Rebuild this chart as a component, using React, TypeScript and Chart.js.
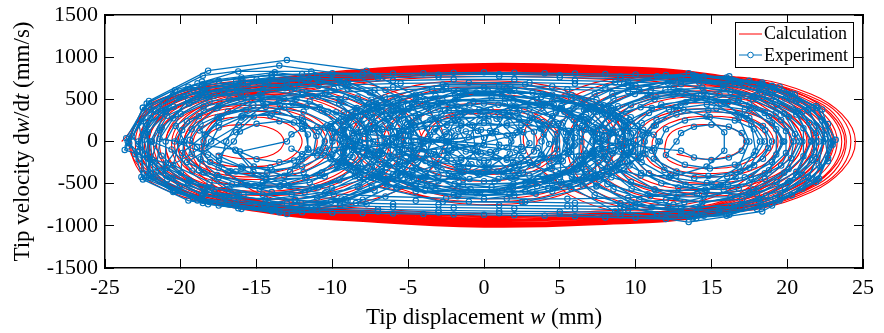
import { useEffect, useRef } from 'react';
import { Chart, registerables } from 'chart.js';

Chart.register(...registerables);

type P = [number, number];

// Axis ranges / ticks
const xRange = { min: -25, max: 25, step: 5 };
const yRange = { min: -1500, max: 1500, step: 500 };
const seriesNames = ['Calculation', 'Experiment'];

// ---------- Calculation (red) : w (mm), dw/dt (mm/s) ----------
const calcLeftWell: P[] = [
  [-23.9, 0], [-21.1, 520], [-14.0, 720], [-6.9, 530], [-4.1, 0], [-6.9, -540], [-14.0, -760], [-21.1, -520],
  [-23.4, 0], [-20.5, 530], [-13.0, 740], [-5.5, 560], [-2.6, 0], [-5.5, -570], [-13.0, -790], [-20.5, -540],
  [-23.3, 0], [-20.8, 500], [-14.3, 690], [-7.8, 500], [-5.3, 0], [-7.8, -520], [-14.3, -730], [-20.8, -500],
  [-22.8, 0], [-20.5, 470], [-14.5, 650], [-8.5, 470], [-6.2, 0], [-8.5, -480], [-14.5, -690], [-20.5, -470],
  [-22.2, 0], [-20.1, 440], [-14.6, 610], [-9.1, 440], [-7.0, 0], [-9.1, -450], [-14.6, -640], [-20.1, -440],
  [-22.1, 0], [-20.1, 420], [-14.9, 580], [-9.7, 420], [-7.7, 0], [-9.7, -430], [-14.9, -610], [-20.1, -420],
  [-21.6, 0], [-19.7, 400], [-14.8, 560], [-9.9, 400], [-8.0, 0], [-9.9, -410], [-14.8, -590], [-19.7, -400],
  [-21.0, 0], [-19.3, 360], [-15.0, 500], [-10.7, 360], [-9.0, 0], [-10.7, -370], [-15.0, -520], [-19.3, -360],
  [-20.4, 0], [-18.9, 310], [-15.2, 430], [-11.5, 310], [-10.0, 0], [-11.5, -320], [-15.2, -450], [-18.9, -310],
  [-20.2, 0], [-18.8, 290], [-15.3, 400], [-11.8, 290], [-10.4, 0], [-11.8, -295], [-15.3, -420], [-18.8, -290],
  [-19.8, 0], [-18.6, 260], [-15.4, 360], [-12.2, 260], [-11.0, 0], [-12.2, -270], [-15.4, -380], [-18.6, -260],
  [-19.2, 0], [-18.2, 210], [-15.6, 290], [-13.0, 210], [-12.0, 0], [-13.0, -215], [-15.6, -300], [-18.2, -210],
  [-18.4, 0], [-17.7, 145], [-15.8, 200], [-13.9, 145], [-13.2, 0], [-13.9, -150], [-15.8, -205], [-17.7, -145],
];

const calcRightWell: P[] = [
  [3.5, 0], [6.4, 580], [14.0, 780], [21.6, 560], [24.5, 0], [21.6, -600], [14.0, -850], [6.4, -620],
  [2.6, 0], [5.6, 590], [13.2, 790], [20.8, 570], [23.8, 0], [20.8, -610], [13.2, -870], [5.6, -630],
  [4.6, 0], [7.3, 550], [14.2, 750], [21.1, 540], [23.8, 0], [21.1, -570], [14.2, -810], [7.3, -590],
  [5.5, 0], [8.0, 520], [14.3, 710], [20.6, 510], [23.1, 0], [20.6, -540], [14.3, -770], [8.0, -550],
  [6.4, 0], [8.6, 480], [14.4, 660], [20.2, 470], [22.4, 0], [20.2, -500], [14.4, -710], [8.6, -510],
  [7.3, 0], [9.3, 430], [14.5, 600], [19.7, 430], [21.7, 0], [19.7, -450], [14.5, -650], [9.3, -460],
  [7.7, 0], [9.6, 410], [14.5, 570], [19.4, 410], [21.3, 0], [19.4, -425], [14.5, -615], [9.6, -430],
  [8.2, 0], [10.0, 380], [14.6, 530], [19.2, 380], [21.0, 0], [19.2, -400], [14.6, -570], [10.0, -400],
  [9.1, 0], [10.7, 330], [14.7, 460], [18.7, 330], [20.3, 0], [18.7, -345], [14.7, -495], [10.7, -345],
  [10.0, 0], [11.3, 280], [14.8, 390], [18.3, 280], [19.6, 0], [18.3, -290], [14.8, -420], [11.3, -290],
  [10.5, 0], [11.7, 250], [14.8, 350], [17.9, 250], [19.1, 0], [17.9, -260], [14.8, -380], [11.7, -260],
  [11.1, 0], [12.2, 215], [14.9, 300], [17.6, 215], [18.7, 0], [17.6, -225], [14.9, -320], [12.2, -225],
  [12.0, 0], [12.7, 145], [14.6, 200], [16.5, 145], [17.2, 0], [16.5, -150], [14.6, -210], [12.7, -150],
];

const calcCrossing: P[] = [
  [-23.6, 0], [-21.8, 470], [-15, 720], [-7, 870], [0, 925], [7, 900], [15, 800], [22.2, 480], [24.2, 0], [22.2, -520], [15, -880], [7, -990], [0, -1015], [-7, -960], [-15, -830], [-21.8, -500],
  [-23.3, 0], [-21.5, 460], [-15, 705], [-7, 860], [0, 915], [7, 890], [15, 790], [22.0, 470], [23.9, 0], [22.0, -510], [15, -870], [7, -980], [0, -1005], [-7, -950], [-15, -820], [-21.5, -490],
  [-23.0, 0], [-21.3, 450], [-15, 690], [-7, 850], [0, 905], [7, 880], [15, 780], [21.7, 460], [23.6, 0], [21.7, -500], [15, -860], [7, -970], [0, -995], [-7, -940], [-15, -810], [-21.3, -480],
  [-22.7, 0], [-21.0, 440], [-15, 675], [-7, 840], [0, 895], [7, 870], [15, 770], [21.4, 450], [23.3, 0], [21.4, -490], [15, -850], [7, -960], [0, -985], [-7, -930], [-15, -800], [-21.0, -470],
  [-22.4, 0], [-20.7, 430], [-15, 660], [-7, 830], [0, 885], [7, 860], [15, 760], [21.1, 440], [23.0, 0], [21.1, -480], [15, -840], [7, -950], [0, -975], [-7, -920], [-15, -790], [-20.7, -460],
  [-22.1, 0], [-20.4, 420], [-15, 650], [-7, 820], [0, 875], [7, 850], [15, 750], [20.8, 430], [22.7, 0], [20.8, -470], [15, -830], [7, -940], [0, -965], [-7, -910], [-15, -780], [-20.4, -450],
  [-21.8, 0], [-20.1, 410], [-15, 640], [-7, 810], [0, 865], [7, 840], [15, 740], [20.5, 420], [22.4, 0], [20.5, -460], [15, -820], [7, -930], [0, -955], [-7, -900], [-15, -770], [-20.1, -440],
  [-21.4, 0], [-19.8, 400], [-15, 625], [-7, 800], [0, 855], [7, 830], [15, 728], [20.2, 410], [22.1, 0], [20.2, -450], [15, -808], [7, -918], [0, -942], [-7, -888], [-15, -758], [-19.8, -430],
  [-21.0, 0], [-19.4, 390], [-15, 610], [-7, 790], [0, 845], [7, 820], [15, 715], [19.9, 400], [21.8, 0], [19.9, -440], [15, -795], [7, -905], [0, -930], [-7, -875], [-15, -745], [-19.4, -420],
  [-20.6, 0], [-19.0, 380], [-15, 595], [-7, 778], [0, 832], [7, 808], [15, 702], [19.5, 390], [21.4, 0], [19.5, -430], [15, -782], [7, -892], [0, -918], [-7, -862], [-15, -732], [-19.0, -410],
  [-20.2, 0], [-18.7, 370], [-15, 580], [-7, 765], [0, 820], [7, 795], [15, 690], [19.2, 380], [21.0, 0], [19.2, -420], [15, -770], [7, -880], [0, -905], [-7, -850], [-15, -720], [-18.7, -400],
  [-19.8, 0], [-18.3, 360], [-15, 565], [-7, 752], [0, 808], [7, 782], [15, 678], [18.8, 370], [20.6, 0], [18.8, -410], [15, -758], [7, -868], [0, -892], [-7, -838], [-15, -708], [-18.3, -390],
  [-19.4, 0], [-18.0, 350], [-15, 550], [-7, 740], [0, 795], [7, 770], [15, 665], [18.5, 360], [20.2, 0], [18.5, -400], [15, -745], [7, -855], [0, -880], [-7, -825], [-15, -695], [-18.0, -380],
  [-18.6, 0], [-17.2, 330], [-14, 540], [-7, 715], [0, 770], [7, 745], [14, 640], [17.8, 340], [19.4, 0], [17.8, -380], [14, -720], [7, -830], [0, -855], [-7, -800], [-14, -670], [-17.2, -360],
];

const calcCenter: P[] = [
  [-4.1, 0], [-3.0, 240], [-0.3, 330], [2.4, 240], [3.5, 0], [2.4, -240], [-0.3, -340], [-3.0, -240],
  [-4.2, 0], [-2.94, 274], [0.3, 380], [3.54, 274], [4.8, 0], [3.54, -280], [0.3, -390], [-2.94, -280],
  [-5.4, 0], [-3.9, 320], [-0.2, 450], [3.5, 320], [5.0, 0], [3.5, -330], [-0.2, -470], [-3.9, -330],
  [-6.6, 0], [-4.75, 400], [0, 560], [4.75, 400], [6.6, 0], [4.75, -410], [0, -580], [-4.75, -410],
  [-7.8, 0], [-5.55, 470], [0.2, 650], [5.95, 470], [8.2, 0], [5.95, -480], [0.2, -680], [-5.55, -480],
  [-8.8, 0], [-6.34, 497], [0, 690], [6.34, 497], [8.8, 0], [6.34, -505], [0, -715], [-6.34, -505],
  [-9.7, 0], [-7.05, 520], [-0.2, 720], [6.65, 520], [9.3, 0], [6.65, -530], [-0.2, -750], [-7.05, -530],
];

// ---------- Experiment (blue, sampled) ----------
const expLeftWell: P[] = [
  [-23.5, -60], [-22.1, 480], [-18.2, 840], [-13, 965], [-7.75, 840], [-3.9, 490], [-2.5, 0], [-3.9, -430], [-7.75, -745], [-13, -860], [-18.2, -745], [-22.1, -430],
  [-22.78, 223], [-20.38, 608], [-16.21, 831], [-11.39, 831], [-7.22, 608], [-4.82, 223], [-4.82, -212], [-7.22, -580], [-11.39, -792], [-16.21, -792], [-20.38, -580], [-22.78, -212],
  [-23.6, 40], [-22.25, 450], [-18.55, 780], [-13.5, 900], [-8.45, 780], [-4.75, 450], [-3.4, 0], [-4.75, -420], [-8.45, -730], [-13.5, -840], [-18.55, -730], [-22.25, -420],
  [-21.37, 132], [-19.51, 489], [-15.91, 714], [-11.52, 749], [-7.53, 582], [-5.01, 260], [-4.63, -132], [-6.49, -489], [-10.09, -714], [-14.48, -749], [-18.47, -582], [-20.99, -260],
  [-23.7, -100], [-22.5, 400], [-18.9, 690], [-14, 790], [-9.1, 690], [-5.5, 390], [-4.0, -20], [-5.5, -400], [-9.1, -690], [-14, -810], [-18.9, -700], [-22.6, -420],
  [-22.46, 239], [-19.79, 536], [-15.57, 690], [-10.92, 658], [-7.11, 450], [-5.13, 122], [-5.54, -239], [-8.21, -536], [-12.43, -690], [-17.08, -658], [-20.89, -450], [-22.87, -122],
  [-23.4, -20], [-22.1, 410], [-18.6, 710], [-13.8, 820], [-9.0, 710], [-5.5, 410], [-4.2, 0], [-5.5, -405], [-9.0, -700], [-13.8, -810], [-18.6, -700], [-22.1, -405],
  [-22.22, 192], [-20.07, 523], [-16.35, 715], [-12.05, 715], [-8.33, 523], [-6.18, 192], [-6.18, -197], [-8.33, -537], [-12.05, -734], [-16.35, -734], [-20.07, -537], [-22.22, -197],
  [-23.2, 60], [-22.0, 380], [-18.6, 660], [-14, 760], [-9.4, 660], [-6.0, 380], [-4.8, 0], [-6.0, -390], [-9.4, -675], [-14, -780], [-18.6, -675], [-22.0, -390],
  [-22.18, 111], [-20.47, 412], [-17.17, 602], [-13.14, 630], [-9.48, 490], [-7.17, 219], [-6.82, -111], [-8.53, -412], [-11.83, -602], [-15.86, -630], [-19.52, -490], [-21.83, -219],
  [-22.8, -30], [-21.65, 360], [-18.5, 625], [-14.2, 720], [-9.9, 625], [-6.75, 360], [-5.6, 0], [-6.75, -365], [-9.9, -630], [-14.2, -730], [-18.5, -630], [-21.65, -365],
  [-21.26, 166], [-19.45, 452], [-16.31, 618], [-12.69, 618], [-9.55, 452], [-7.74, 166], [-7.74, -168], [-9.55, -460], [-12.69, -628], [-16.31, -628], [-19.45, -460], [-21.26, -168],
  [-22.42, 97], [-21.21, 360], [-18.88, 526], [-16.04, 552], [-13.46, 429], [-11.83, 192], [-11.58, -97], [-12.79, -360], [-15.12, -526], [-17.96, -552], [-20.54, -429], [-22.17, -192],
  [-22.4, 20], [-21.3, 335], [-18.4, 580], [-14.4, 670], [-10.4, 580], [-7.5, 335], [-6.4, 0], [-7.5, -345], [-10.4, -600], [-14.4, -690], [-18.4, -600], [-21.3, -345],
  [-19.28, 145], [-17.6, 396], [-14.68, 541], [-11.32, 541], [-8.4, 396], [-6.72, 145], [-6.72, -145], [-8.4, -396], [-11.32, -541], [-14.68, -541], [-17.6, -396], [-19.28, -145],
  [-20.33, 185], [-18.49, 414], [-15.58, 532], [-12.38, 508], [-9.75, 347], [-8.39, 94], [-8.67, -185], [-10.51, -414], [-13.42, -532], [-16.62, -508], [-19.25, -347], [-20.61, -94],
  [-21.9, 0], [-20.9, 305], [-18.25, 530], [-14.6, 610], [-10.95, 530], [-8.3, 305], [-7.3, 0], [-8.3, -315], [-10.95, -545], [-14.6, -630], [-18.25, -545], [-20.9, -315],
  [-16.17, 192], [-14.54, 429], [-11.96, 552], [-9.12, 526], [-6.79, 360], [-5.58, 97], [-5.83, -192], [-7.46, -429], [-10.04, -552], [-12.88, -526], [-15.21, -360], [-16.42, -97],
  [-21.4, 30], [-20.5, 275], [-18.1, 475], [-14.8, 550], [-11.5, 475], [-9.1, 275], [-8.2, 0], [-9.1, -280], [-11.5, -485], [-14.8, -560], [-18.1, -485], [-20.5, -280],
  [-19.91, 135], [-18.49, 368], [-16.02, 502], [-13.18, 502], [-10.71, 368], [-9.29, 135], [-9.29, -135], [-10.71, -368], [-13.18, -502], [-16.02, -502], [-18.49, -368], [-19.91, -135],
  [-18.43, 80], [-17.33, 296], [-15.21, 432], [-12.63, 453], [-10.28, 352], [-8.8, 157], [-8.57, -80], [-9.67, -296], [-11.79, -432], [-14.37, -453], [-16.72, -352], [-18.2, -157],
  [-20.4, 0], [-19.6, 240], [-17.5, 415], [-14.6, 480], [-11.7, 415], [-9.6, 240], [-8.8, 0], [-9.6, -245], [-11.7, -425], [-14.6, -490], [-17.5, -425], [-19.6, -245],
  [-16.35, 109], [-15.18, 297], [-13.17, 406], [-10.83, 406], [-8.82, 297], [-7.65, 109], [-7.65, -109], [-8.82, -297], [-10.83, -406], [-13.17, -406], [-15.18, -297], [-16.35, -109],
  [-18.76, 130], [-17.57, 291], [-15.7, 374], [-13.63, 357], [-11.94, 244], [-11.06, 66], [-11.24, -130], [-12.43, -291], [-14.3, -374], [-16.37, -357], [-18.06, -244], [-18.94, -66],
  [-19.4, 20], [-18.7, 205], [-16.9, 355], [-14.4, 410], [-11.9, 355], [-10.1, 205], [-9.4, 0], [-10.1, -210], [-11.9, -365], [-14.4, -420], [-16.9, -365], [-18.7, -210],
  [-18.38, 83], [-17.47, 226], [-15.91, 309], [-14.09, 309], [-12.53, 226], [-11.62, 83], [-11.62, -83], [-12.53, -226], [-14.09, -309], [-15.91, -309], [-17.47, -226], [-18.38, -83],
  [-18.0, 0], [-17.5, 165], [-16.0, 285], [-14.0, 330], [-12.0, 285], [-10.5, 165], [-10.0, 0], [-10.5, -170], [-12.0, -295], [-14.0, -340], [-16.0, -295], [-17.5, -170],
  [-16.5, 0], [-16.1, 120], [-15.0, 210], [-13.5, 240], [-12.0, 210], [-10.9, 120], [-10.5, 0], [-10.9, -120], [-12.0, -210], [-13.5, -245], [-15.0, -210], [-16.1, -120],
  [-13, 0], [-12.7, 85], [-12, 150], [-11, 170], [-10, 150], [-9.3, 85], [-9, 0], [-9.3, -85], [-10, -150], [-11, -170], [-12, -150], [-12.7, -85],
];

const expRightWell: P[] = [
  [3.8, 0], [5.1, 420], [8.65, 700], [13.5, 810], [18.35, 700], [21.9, 420], [23.2, 20], [21.9, -480], [18.35, -830], [13.5, -955], [8.65, -830], [5.1, -480],
  [4.91, 207], [7.3, 566], [11.42, 773], [16.18, 773], [20.3, 566], [22.69, 207], [22.69, -233], [20.3, -636], [16.18, -869], [11.42, -869], [7.3, -636], [4.91, -233],
  [4.7, 0], [5.9, 400], [9.25, 685], [13.8, 790], [18.35, 685], [21.7, 400], [22.9, -20], [21.7, -450], [18.35, -780], [13.8, -900], [9.25, -780], [5.9, -450],
  [5.92, 253], [8.47, 567], [12.5, 729], [16.94, 696], [20.59, 476], [22.47, 129], [22.08, -284], [19.53, -636], [15.5, -818], [11.06, -780], [7.41, -534], [5.53, -144],
  [5.4, 20], [6.7, 390], [10.0, 660], [14.5, 770], [19.0, 660], [22.3, 380], [23.0, -40], [22.1, -440], [19.0, -760], [14.5, -880], [10.0, -760], [6.7, -440],
  [5.5, 0], [6.6, 375], [9.75, 650], [14.0, 750], [18.25, 650], [21.4, 375], [22.5, 30], [21.4, -425], [18.25, -735], [14.0, -850], [9.75, -735], [6.6, -425],
  [6.47, 186], [8.54, 509], [12.13, 696], [16.27, 696], [19.86, 509], [21.93, 186], [21.93, -207], [19.86, -566], [16.27, -773], [12.13, -773], [8.54, -566], [6.47, -207],
  [7.21, 113], [8.83, 418], [11.97, 611], [15.79, 640], [19.26, 498], [21.46, 222], [21.79, -127], [20.17, -469], [17.03, -686], [13.21, -719], [9.74, -559], [7.54, -250],
  [6.3, 0], [7.4, 350], [10.25, 605], [14.2, 700], [18.15, 605], [21.0, 350], [22.1, 0], [21.0, -395], [18.15, -685], [14.2, -790], [10.25, -685], [7.4, -395],
  [7.2, 0], [8.2, 320], [10.8, 555], [14.4, 640], [18.0, 555], [20.6, 320], [21.6, 10], [20.6, -360], [18.0, -625], [14.4, -720], [10.8, -625], [8.2, -360],
  [11.33, 192], [12.96, 429], [15.54, 552], [18.38, 526], [20.71, 360], [21.92, 97], [21.67, -219], [20.04, -490], [17.46, -630], [14.62, -602], [12.29, -412], [11.08, -111],
  [7.93, 158], [9.69, 431], [12.74, 589], [16.26, 589], [19.31, 431], [21.07, 158], [21.07, -176], [19.31, -481], [16.26, -657], [12.74, -657], [9.69, -481], [7.93, -176],
  [6.09, 104], [7.4, 386], [9.95, 564], [13.04, 591], [15.86, 460], [17.64, 205], [17.91, -115], [16.6, -424], [14.05, -620], [10.96, -650], [8.14, -506], [6.36, -226],
  [8.0, 0], [8.9, 290], [11.25, 500], [14.5, 580], [17.75, 500], [20.1, 290], [21.0, 0], [20.1, -325], [17.75, -565], [14.5, -650], [11.25, -565], [8.9, -325],
  [6.72, 145], [8.4, 396], [11.32, 541], [14.68, 541], [17.6, 396], [19.28, 145], [19.28, -155], [17.6, -424], [14.68, -580], [11.32, -580], [8.4, -424], [6.72, -155],
  [9.35, 178], [11.07, 398], [13.79, 512], [16.78, 489], [19.24, 334], [20.51, 90], [20.25, -198], [18.53, -444], [15.81, -571], [12.82, -545], [10.36, -373], [9.09, -101],
  [8.8, 0], [9.6, 255], [11.7, 440], [14.6, 510], [17.5, 440], [19.6, 255], [20.4, 0], [19.6, -285], [17.5, -495], [14.6, -570], [11.7, -495], [9.6, -285],
  [9.48, 124], [10.88, 339], [13.3, 464], [16.1, 464], [18.52, 339], [19.92, 124], [19.92, -137], [18.52, -375], [16.1, -512], [13.3, -512], [10.88, -375], [9.48, -137],
  [9.7, 0], [10.4, 220], [12.2, 380], [14.7, 440], [17.2, 380], [19.0, 220], [19.7, 0], [19.0, -245], [17.2, -425], [14.7, -490], [12.2, -425], [10.4, -245],
  [7.15, 109], [8.32, 297], [10.33, 406], [12.67, 406], [14.68, 297], [15.85, 109], [15.85, -109], [14.68, -297], [12.67, -406], [10.33, -406], [8.32, -297], [7.15, -109],
  [10.46, 70], [11.38, 257], [13.16, 376], [15.33, 394], [17.3, 306], [18.55, 137], [18.74, -77], [17.82, -283], [16.04, -414], [13.87, -433], [11.9, -337], [10.65, -150],
  [10.6, 0], [11.2, 185], [12.7, 320], [14.8, 370], [16.9, 320], [18.4, 185], [19.0, 0], [18.4, -205], [16.9, -355], [14.8, -410], [12.7, -355], [11.2, -205],
  [11.6, 0], [12.0, 145], [13.25, 250], [14.9, 290], [16.55, 250], [17.8, 145], [18.2, 0], [17.8, -160], [16.55, -275], [14.9, -320], [13.25, -275], [12.0, -160],
  [12.7, 0], [13.0, 100], [13.85, 175], [15.0, 200], [16.15, 175], [17.0, 100], [17.3, 0], [17.0, -110], [16.15, -190], [15.0, -220], [13.85, -190], [13.0, -110],
  [7.5, 0], [7.8, 80], [8.5, 140], [9.5, 160], [10.5, 140], [11.2, 80], [11.5, 0], [11.2, -80], [10.5, -140], [9.5, -160], [8.5, -140], [7.8, -80],
];

const expCrossing: P[] = [
  [-23.5, 0], [-22.5, 400], [-19.5, 650], [-16, 760], [-12, 800], [-8, 800], [-4, 810], [0, 820], [4, 810], [8, 800], [12, 790], [16, 760], [19.5, 650], [22.0, 400], [23.0, 0], [22.0, -450], [19.5, -700], [16, -880], [12, -920], [8, -900], [4, -880], [0, -870], [-4, -860], [-8, -850], [-12, -840], [-16, -800], [-19.5, -700], [-22.5, -450],
  [-23.0, -150], [-22.0, 280], [-20.5, 560], [-17.5, 720], [-14, 790], [-10, 810], [-6, 805], [-2, 815], [2, 815], [6, 805], [10, 795], [14, 775], [17.5, 720], [20.5, 560], [22.3, 250], [22.7, -200], [21, -560], [18, -800], [14, -910], [10, -905], [6, -885], [2, -875], [-2, -865], [-6, -855], [-10, -845], [-14, -820], [-17.5, -760], [-20.5, -600], [-22.4, -380],
  [-22.8, 0], [-21.8, 380], [-19.2, 610], [-15, 735], [-11, 772], [-7, 778], [-3, 792], [1, 798], [5, 787], [9, 772], [13, 752], [16.5, 705], [19.2, 610], [21.4, 380], [22.4, 0], [21.4, -430], [19.2, -670], [17, -800], [13, -885], [9, -875], [5, -858], [1, -850], [-3, -842], [-7, -829], [-11, -814], [-15, -785], [-19.2, -670], [-21.8, -430],
  [-22, 0], [-21, 350], [-18.6, 580], [-14.5, 705], [-11, 742], [-7, 754], [-3, 767], [1, 773], [5, 761], [9, 745], [13, 718], [15.8, 680], [18.6, 580], [20.6, 350], [21.6, 0], [20.6, -400], [18.6, -640], [16.5, -770], [13, -840], [9, -842], [5, -832], [1, -826], [-3, -817], [-7, -804], [-11, -786], [-14.5, -752], [-18.6, -640], [-21, -400],
  [-21, 0], [-20, 330], [-17.8, 540], [-13, 680], [-9.5, 710], [-6, 722], [-2, 735], [2, 735], [6, 722], [9.5, 708], [13, 680], [17.8, 540], [19.8, 330], [20.8, 0], [19.8, -370], [17.8, -600], [13, -790], [9.5, -808], [6, -800], [2, -792], [-2, -785], [-6, -775], [-9.5, -760], [-13, -735], [-17.8, -600], [-20, -370],
  [-19.8, 0], [-18.8, 300], [-16.8, 500], [-12.5, 635], [-9, 672], [-5.5, 690], [-1, 698], [3, 697], [6, 686], [9.5, 670], [12.5, 640], [16.8, 500], [18.8, 300], [19.8, 0], [18.8, -340], [16.8, -560], [12.5, -748], [9, -770], [5.5, -765], [1, -757], [-3, -748], [-6, -740], [-9.5, -726], [-12.5, -695], [-16.8, -560], [-18.8, -340],
  [-18.5, 0], [-17.5, 280], [-15.6, 460], [-12, 585], [-9, 627], [-6, 645], [-2.5, 657], [1, 660], [4.5, 653], [8, 635], [11, 610], [14, 540], [15.6, 460], [17.5, 280], [18.5, 0], [17.5, -310], [15.6, -520], [12, -695], [9, -730], [6, -728], [2.5, -718], [-1, -713], [-4.5, -703], [-8, -690], [-11, -665], [-14, -600], [-15.6, -520], [-17.5, -310],
  [-17, 0], [-16, 300], [-13.5, 490], [-10.5, 575], [-6.5, 612], [-2.5, 626], [1.5, 630], [5.5, 619], [9.5, 597], [12.5, 555], [15, 470], [16.8, 280], [17.5, 0], [16.8, -300], [15, -500], [12.5, -610], [9.5, -668], [5.5, -680], [1.5, -680], [-2.5, -671], [-6.5, -652], [-10.5, -615], [-13.5, -535], [-16, -320],
];

const expCenter: P[] = [
  [-10.34, 192], [-7.07, 429], [-1.91, 552], [3.76, 526], [8.43, 360], [10.84, 97], [10.34, -192], [7.07, -429], [1.91, -552], [-3.76, -526], [-8.43, -360], [-10.84, -97],
  [-10.14, 181], [-7.42, 495], [-2.72, 676], [2.72, 676], [7.42, 495], [10.14, 181], [10.14, -192], [7.42, -523], [2.72, -715], [-2.72, -715], [-7.42, -523], [-10.14, -192],
  [-9.85, 115], [-7.66, 424], [-3.42, 620], [1.74, 650], [6.43, 506], [9.4, 226], [9.85, -115], [7.66, -424], [3.42, -620], [-1.74, -650], [-6.43, -506], [-9.4, -226],
  [-9, 30], [-7.8, 320], [-4.5, 555], [0, 640], [4.5, 555], [7.8, 320], [9, -30], [7.8, -340], [4.5, -590], [0, -680], [-4.5, -590], [-7.8, -340],
  [-9.21, 145], [-7.01, 396], [-3.2, 541], [1.2, 541], [5.01, 396], [7.21, 145], [7.21, -155], [5.01, -424], [1.2, -580], [-3.2, -580], [-7.01, -424], [-9.21, -155],
  [-8.08, 212], [-6.0, 475], [-2.72, 611], [0.89, 583], [3.86, 399], [5.4, 108], [5.08, -212], [3.0, -475], [-0.28, -611], [-3.89, -583], [-6.86, -399], [-8.4, -108],
  [-8.5, -40], [-7.4, 290], [-4.5, 500], [-0.5, 580], [3.5, 500], [6.4, 290], [7.5, 40], [6.4, -305], [3.5, -530], [-0.5, -610], [-4.5, -530], [-7.4, -305],
  [-5.08, 205], [-3.0, 460], [0.28, 591], [3.89, 564], [6.86, 386], [8.4, 104], [8.08, -205], [6.0, -460], [2.72, -591], [-0.89, -564], [-3.86, -386], [-5.4, -104],
  [-7.21, 155], [-5.01, 424], [-1.2, 580], [3.2, 580], [7.01, 424], [9.21, 155], [9.21, -160], [7.01, -438], [3.2, -599], [-1.2, -599], [-5.01, -438], [-7.21, -160],
  [-9.43, 97], [-8.45, 360], [-6.54, 526], [-4.22, 552], [-2.11, 429], [-0.77, 192], [-0.57, -97], [-1.55, -360], [-3.46, -526], [-5.78, -552], [-7.89, -429], [-9.23, -192],
  [-9.5, 20], [-8.5, 300], [-5.75, 520], [-2, 600], [1.75, 520], [4.5, 300], [5.5, -50], [4.5, -315], [1.75, -545], [-2, -630], [-5.75, -545], [-8.5, -315],
  [0.57, 97], [1.55, 360], [3.46, 526], [5.78, 552], [7.89, 429], [9.23, 192], [9.43, -97], [8.45, -360], [6.54, -526], [4.22, -552], [2.11, -429], [0.77, -192],
  [-6.28, 161], [-4.6, 438], [-1.68, 599], [1.68, 599], [4.6, 438], [6.28, 161], [6.28, -168], [4.6, -460], [1.68, -628], [-1.68, -628], [-4.6, -460], [-6.28, -168],
  [-7.88, 90], [-6.13, 334], [-2.74, 489], [1.39, 512], [5.14, 398], [7.52, 178], [7.88, -90], [6.13, -334], [2.74, -489], [-1.39, -512], [-5.14, -398], [-7.52, -178],
  [-5.5, 60], [-4.5, 300], [-1.75, 520], [2, 600], [5.75, 520], [8.5, 300], [9.5, -20], [8.5, -320], [5.75, -555], [2, -640], [-1.75, -555], [-4.5, -320],
  [-7.25, 130], [-5.3, 354], [-1.94, 483], [1.94, 483], [5.3, 354], [7.25, 130], [7.25, -135], [5.3, -368], [1.94, -502], [-1.94, -502], [-5.3, -368], [-7.25, -135],
  [-10.29, 154], [-9.25, 345], [-7.61, 443], [-5.8, 423], [-4.32, 289], [-3.55, 78], [-3.71, -154], [-4.75, -345], [-6.39, -443], [-8.2, -423], [-9.68, -289], [-10.45, -78],
  [-6.5, -30], [-5.6, 260], [-3.0, 450], [0.5, 520], [4.0, 450], [6.6, 260], [7.5, 30], [6.6, -270], [4.0, -470], [0.5, -540], [-3.0, -470], [-5.6, -270],
  [3.71, 154], [4.75, 345], [6.39, 443], [8.2, 423], [9.68, 289], [10.45, 78], [10.29, -154], [9.25, -345], [7.61, -443], [5.8, -423], [4.32, -289], [3.55, -78],
  [-8.69, 98], [-6.36, 269], [-2.33, 367], [2.33, 367], [6.36, 269], [8.69, 98], [8.69, -100], [6.36, -276], [2.33, -377], [-2.33, -377], [-6.36, -276], [-8.69, -100],
  [-10, 40], [-9.3, 240], [-7.25, 415], [-4.5, 480], [-1.75, 415], [0.3, 240], [1, -40], [0.3, -250], [-1.75, -430], [-4.5, -500], [-7.25, -430], [-9.3, -250],
  [-7.7, 144], [-6.22, 322], [-3.87, 414], [-1.29, 395], [0.83, 270], [1.93, 73], [1.7, -144], [0.22, -322], [-2.13, -414], [-4.71, -395], [-6.83, -270], [-7.93, -73],
  [-8.3, 117], [-6.74, 318], [-4.05, 435], [-0.95, 435], [1.74, 318], [3.3, 117], [3.3, -120], [1.74, -325], [-0.95, -445], [-4.05, -445], [-6.74, -325], [-8.3, -120],
  [-1, 50], [-0.3, 240], [1.75, 415], [4.5, 480], [7.25, 415], [9.3, 240], [10, -40], [9.3, -250], [7.25, -430], [4.5, -500], [1.75, -430], [-0.3, -250],
  [-1.7, 144], [-0.22, 322], [2.13, 414], [4.71, 395], [6.83, 270], [7.93, 73], [7.7, -144], [6.22, -322], [3.87, -414], [1.29, -395], [-0.83, -270], [-1.93, -73],
  [-3.3, 117], [-1.74, 318], [0.95, 435], [4.05, 435], [6.74, 318], [8.3, 117], [8.3, -120], [6.74, -325], [4.05, -445], [0.95, -445], [-1.74, -325], [-3.3, -120],
  [-9.18, 52], [-6.72, 141], [-2.46, 193], [2.46, 193], [6.72, 141], [9.18, 52], [9.18, -52], [6.72, -141], [2.46, -193], [-2.46, -193], [-6.72, -141], [-9.18, -52],
  [-3.76, 164], [-2.57, 368], [-0.7, 473], [1.37, 451], [3.06, 309], [3.94, 84], [3.76, -164], [2.57, -368], [0.7, -473], [-1.37, -451], [-3.06, -309], [-3.94, -84],
  [-6, 35], [-5.2, 225], [-3, 390], [0, 450], [3, 390], [5.2, 225], [6, -35], [5.2, -235], [3, -405], [0, -470], [-3, -405], [-5.2, -235],
  [-9.86, 104], [-8.83, 283], [-7.04, 386], [-4.96, 386], [-3.17, 283], [-2.14, 104], [-2.14, -104], [-3.17, -283], [-4.96, -386], [-7.04, -386], [-8.83, -283], [-9.86, -104],
  [2.14, 104], [3.17, 283], [4.96, 386], [7.04, 386], [8.83, 283], [9.86, 104], [9.86, -104], [8.83, -283], [7.04, -386], [4.96, -386], [3.17, -283], [2.14, -104],
  [-5.91, 52], [-4.6, 193], [-2.05, 282], [1.04, 296], [3.86, 230], [5.64, 103], [5.91, -52], [4.6, -193], [2.05, -282], [-1.04, -296], [-3.86, -230], [-5.64, -103],
  [-5.3, -25], [-4.6, 190], [-2.8, 330], [-0.3, 380], [2.2, 330], [4.0, 190], [4.7, 25], [4.0, -195], [2.2, -340], [-0.3, -395], [-2.8, -340], [-4.6, -195],
  [-4.83, 93], [-3.54, 255], [-1.3, 348], [1.3, 348], [3.54, 255], [4.83, 93], [4.83, -95], [3.54, -260], [1.3, -355], [-1.3, -355], [-3.54, -260], [-4.83, -95],
  [-2.46, 66], [-1.92, 244], [-0.86, 357], [0.44, 374], [1.61, 291], [2.35, 130], [2.46, -66], [1.92, -244], [0.86, -357], [-0.44, -374], [-1.61, -291], [-2.35, -130],
  [-3.7, 30], [-3.2, 150], [-1.7, 260], [0.3, 300], [2.3, 260], [3.8, 150], [4.3, -30], [3.8, -155], [2.3, -270], [0.3, -310], [-1.7, -270], [-3.2, -155],
  [-6, -45], [-5.6, 125], [-4.5, 215], [-3, 250], [-1.5, 215], [-0.4, 125], [0, 45], [-0.4, -125], [-1.5, -215], [-3, -250], [-4.5, -215], [-5.6, -125],
  [0, -45], [0.4, 125], [1.5, 215], [3, 250], [4.5, 215], [5.6, 125], [6, 45], [5.6, -125], [4.5, -215], [3, -250], [1.5, -215], [0.4, -125],
  [-3, 20], [-2.6, 110], [-1.5, 190], [0, 220], [1.5, 190], [2.6, 110], [3, -20], [2.6, -115], [1.5, -195], [0, -225], [-1.5, -195], [-2.6, -115],
  [-2.2, 0], [-1.9, 70], [-1.2, 120], [-0.2, 140], [0.8, 120], [1.5, 70], [1.8, 0], [1.5, -70], [0.8, -120], [-0.2, -145], [-1.2, -120], [-1.9, -70],
];

const RED = '#ff0000';
const BLUE = '#0072bd';
const SERIF = '"Liberation Serif", "Times New Roman", serif';

const toXY = (pts: P[]) => pts.map(([x, y]) => ({ x, y }));

type Seg = { t: string; i?: boolean };
const xTitle: Seg[] = [{ t: 'Tip displacement ' }, { t: 'w', i: true }, { t: ' (mm)' }];
const yTitle: Seg[] = [{ t: 'Tip velocity d' }, { t: 'w', i: true }, { t: '/d' }, { t: 't', i: true }, { t: ' (mm/s)' }];

function drawSegs(ctx: CanvasRenderingContext2D, segs: Seg[], cx: number, cy: number, size: number) {
  const fontOf = (s: Seg) => `${s.i ? 'italic ' : ''}${size}px ${SERIF}`;
  let total = 0;
  for (const s of segs) { ctx.font = fontOf(s); total += ctx.measureText(s.t).width; }
  let x = cx - total / 2;
  ctx.textBaseline = 'middle';
  ctx.textAlign = 'left';
  for (const s of segs) { ctx.font = fontOf(s); ctx.fillText(s.t, x, cy); x += ctx.measureText(s.t).width; }
}

const decorPlugin = {
  id: 'decor',
  afterDraw(chart: any) {
    const ctx: CanvasRenderingContext2D = chart.ctx;
    const a = chart.chartArea;
    ctx.save();
    ctx.fillStyle = '#000';
    drawSegs(ctx, xTitle, (a.left + a.right) / 2, 318, 23);
    ctx.save();
    ctx.translate(23, (a.top + a.bottom) / 2);
    ctx.rotate(-Math.PI / 2);
    drawSegs(ctx, yTitle, 0, 0, 23);
    ctx.restore();
    // legend box
    const bx = 735.5, by = 22.5, bw = 118, bh = 45;
    ctx.fillStyle = '#fff';
    ctx.fillRect(bx, by, bw, bh);
    ctx.strokeStyle = '#000';
    ctx.lineWidth = 1;
    ctx.strokeRect(bx, by, bw, bh);
    ctx.font = `18px ${SERIF}`;
    ctx.textBaseline = 'middle';
    ctx.textAlign = 'left';
    ctx.fillStyle = '#000';
    ctx.strokeStyle = RED;
    ctx.beginPath(); ctx.moveTo(739, 34); ctx.lineTo(762, 34); ctx.stroke();
    ctx.fillText(seriesNames[0], 764, 34);
    ctx.strokeStyle = BLUE;
    ctx.beginPath(); ctx.moveTo(739, 55); ctx.lineTo(762, 55); ctx.stroke();
    ctx.beginPath(); ctx.arc(750.5, 55, 2.8, 0, Math.PI * 2); ctx.fillStyle = '#fff'; ctx.fill(); ctx.stroke();
    ctx.fillStyle = '#000';
    ctx.fillText(seriesNames[1], 764, 56);
    ctx.restore();
  },
};

export default function App() {
  const ref = useRef<HTMLCanvasElement | null>(null);
  useEffect(() => {
    if (!ref.current) return;
    const calcGroups = [calcLeftWell, calcRightWell, calcCrossing, calcCenter];
    const expGroups = [expCrossing, expLeftWell, expRightWell, expCenter];
    const datasets: any[] = [];
    calcGroups.forEach((g, i) => datasets.push({
      label: i === 0 ? seriesNames[0] : '',
      data: toXY(g),
      borderColor: RED,
      borderWidth: 1.1,
      pointRadius: 0,
      tension: 0.4,
      fill: false,
      order: 2,
    }));
    expGroups.forEach((g, i) => datasets.push({
      label: i === 0 ? seriesNames[1] : '',
      data: toXY(g),
      borderColor: BLUE,
      borderWidth: 1.3,
      pointRadius: 2.7,
      pointBorderWidth: 1.1,
      pointBorderColor: BLUE,
      pointBackgroundColor: 'rgba(0,0,0,0)',
      tension: 0,
      fill: false,
      order: 1,
    }));
    const tickFont = { family: SERIF, size: 22 };
    const gridOpt = { display: true, drawOnChartArea: false, drawTicks: true, tickLength: -9, color: '#000', lineWidth: 1 };
    const border = { display: true, color: '#000', width: 1.5 };
    const fmt = (v: any) => String(v);
    const zeroPad = (s: any) => { s.paddingTop = 0; s.paddingBottom = 0; s.paddingLeft = 0; s.paddingRight = 0; };
    const chart = new Chart(ref.current, {
      type: 'line',
      data: { datasets },
      plugins: [decorPlugin],
      options: {
        animation: false,
        responsive: false,
        maintainAspectRatio: false,
        layout: { padding: { left: 0, right: 21, top: 15, bottom: 0 } },
        plugins: { legend: { display: false }, tooltip: { enabled: false } },
        scales: {
          x: {
            type: 'linear', position: 'bottom', min: xRange.min, max: xRange.max,
            ticks: { stepSize: xRange.step, font: tickFont, color: '#000', padding: 16, maxRotation: 0, callback: fmt },
            grid: gridOpt, border,
            afterFit: (s: any) => { s.height = 65; zeroPad(s); },
          },
          x2: {
            type: 'linear', position: 'top', min: xRange.min, max: xRange.max,
            ticks: { stepSize: xRange.step, display: false },
            grid: gridOpt, border,
            afterFit: (s: any) => { s.height = 0; zeroPad(s); },
          },
          y: {
            type: 'linear', position: 'left', min: yRange.min, max: yRange.max,
            ticks: { stepSize: yRange.step, font: tickFont, color: '#000', padding: 16, callback: fmt },
            grid: gridOpt, border,
            afterFit: (s: any) => { s.width = 105; zeroPad(s); },
          },
          y2: {
            type: 'linear', position: 'right', min: yRange.min, max: yRange.max,
            ticks: { stepSize: yRange.step, display: false },
            grid: gridOpt, border,
            afterFit: (s: any) => { s.width = 0; zeroPad(s); },
          },
        },
      } as any,
    });
    return () => chart.destroy();
  }, []);
  return (
    <div style={{ position: 'fixed', left: 0, top: 0, width: 884, height: 333, background: '#fff' }}>
      <canvas ref={ref} width={884} height={333} style={{ display: 'block', width: 884, height: 333 }} />
    </div>
  );
}
